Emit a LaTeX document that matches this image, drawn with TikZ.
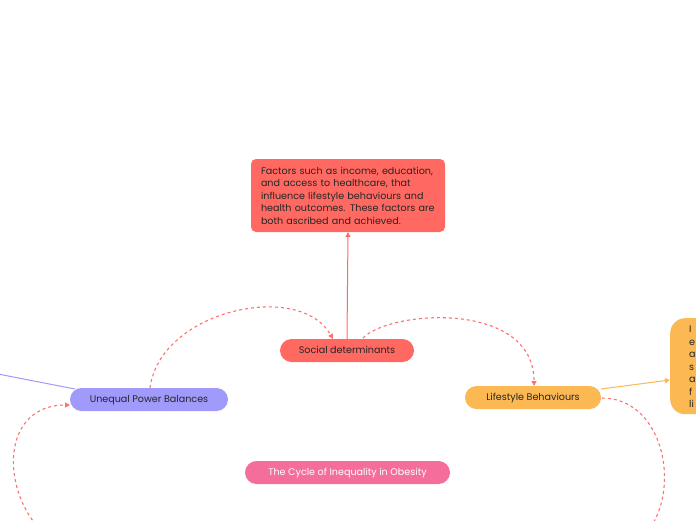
\documentclass[tikz,border=0pt]{standalone}
\usepackage{fontspec}
\setmainfont{Poppins}
\usetikzlibrary{arrows.meta}
\definecolor{redn}{HTML}{FF6961}
\definecolor{dashred}{HTML}{FF7070}
\definecolor{lav}{HTML}{A09AFB}
\definecolor{orn}{HTML}{FBB853}
\definecolor{pink}{HTML}{F46D9B}
\definecolor{txt}{HTML}{262626}
\tikzset{
  pill/.style={rounded corners=11.5pt, minimum height=23pt, inner sep=0pt, text height=6.8pt, text depth=0pt, text=txt, font=\fontsize{9.6}{11}\selectfont},
  dashlink/.style={draw=dashred, line width=1.1pt, dash pattern=on 3pt off 3pt},
  arrowtip/.style={-{Triangle[length=5pt,width=5pt]}},
}
\begin{document}
\begin{tikzpicture}[x=1pt,y=-1pt]
\useasboundingbox[fill=white] (0,0) rectangle (696,520);
\node[fill=redn, rounded corners=5pt, minimum width=194pt, minimum height=73pt, text width=174pt, align=left, inner sep=0pt, text=txt, font=\fontsize{9.6}{12.5}\selectfont] (top) at (348,195.5) {Factors such as income, education,\\and access to healthcare, that\\influence lifestyle behaviours and\\health outcomes. These factors are\\both ascribed and achieved.};
\node[pill, fill=redn, minimum width=134pt] (sd) at (347,350.5) {Social determinants};
\node[pill, fill=lav, minimum width=158pt] (upb) at (149,399.5) {Unequal Power Balances};
\node[pill, fill=orn, minimum width=136pt] (lb) at (533,397.5) {Lifestyle Behaviours};
\node[pill, fill=pink, minimum width=205pt, text=white] (cyc) at (347.5,472.5) {The Cycle of Inequality in Obesity};
\node[fill=orn, rounded corners=15pt, minimum width=80pt, minimum height=96pt, anchor=north west, inner sep=0pt] (rt) at (670,318) {};
\node[anchor=north west, align=left, text=txt, inner sep=0pt, font=\fontsize{9.6}{12.5}\selectfont] (rtt) at (689,326) {I\\e\\a\\s\\a\\f\\li};
\draw[redn, line width=1pt, arrowtip] (sd.north) -- (top.south);
\coordinate (lbe) at (601,389);
\coordinate (rtin) at (670,380);
\draw[orn, line width=1pt, arrowtip] (lbe) -- (rtin);
\coordinate (lavfree) at (-2,374);
\coordinate (lavend) at (75,389);
\draw[lav, line width=1pt] (lavfree) -- (lavend);
\coordinate (upbtop) at (150,388);
\coordinate (sdin) at (333,339);
\draw[dashlink, arrowtip] (upbtop) .. controls (160,310) and (300,280) .. (sdin);
\coordinate (sdout) at (363,338);
\coordinate (lbin) at (534,386);
\draw[dashlink, arrowtip] (sdout) .. controls (390,310) and (534,300) .. (lbin);
\coordinate (lbout) at (602,398);
\coordinate (brfree) at (652,525);
\draw[dashlink] (lbout) .. controls (660,398) and (680,480) .. (brfree);
\coordinate (blfree) at (36,525);
\coordinate (upbin) at (70,405);
\draw[dashlink, arrowtip] (blfree) .. controls (0,480) and (5,405) .. (upbin);
\end{tikzpicture}
\end{document}
